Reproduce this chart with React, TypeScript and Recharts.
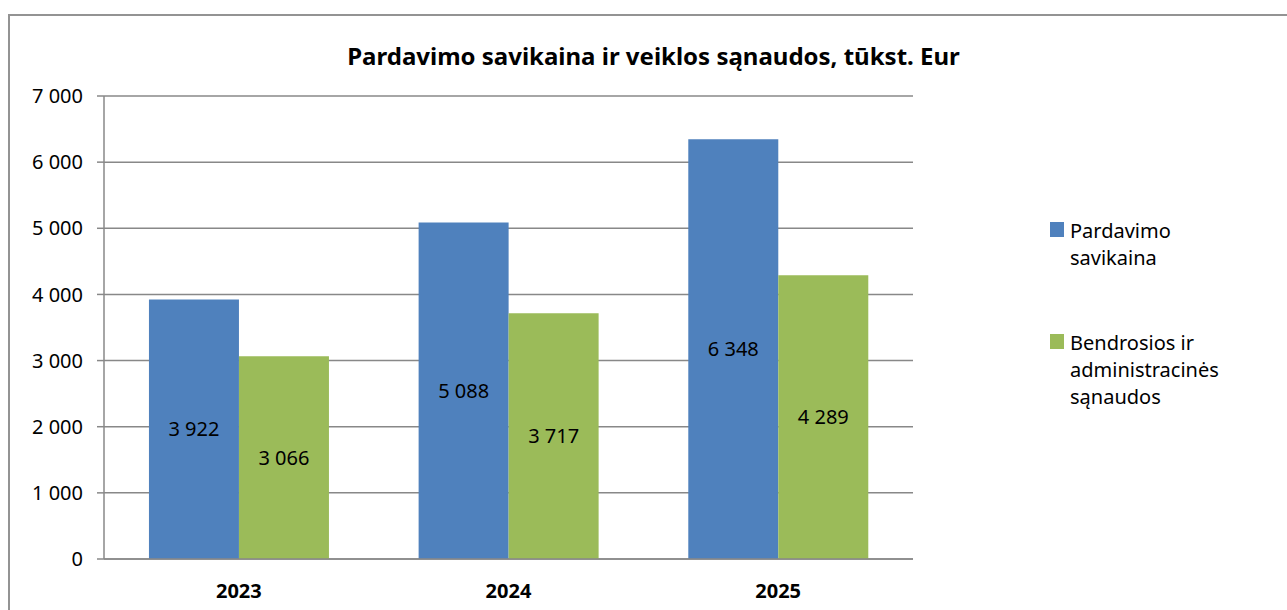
import React from 'react';
import { BarChart, Bar, XAxis, YAxis, CartesianGrid, LabelList } from 'recharts';

const years = ['2023', '2024', '2025'];
const savikaina = [3922, 5088, 6348];
const sanaudos = [3066, 3717, 4289];
const yTicks = [0, 1000, 2000, 3000, 4000, 5000, 6000, 7000];

const seriesNames = ['Pardavimo savikaina', 'Bendrosios ir administracinės sąnaudos'];
const legendLines = [['Pardavimo', 'savikaina'], ['Bendrosios ir', 'administracinės', 'sąnaudos']];
const colors = ['#4F81BD', '#9BBB59'];

const data = years.map((year, i) => ({
  year,
  savikaina: savikaina[i],
  sanaudos: sanaudos[i],
}));

const font = '"Noto Sans", sans-serif';
const gridColor = '#888888';

const fmt = (v: number) => String(v).replace(/\B(?=(\d{3})+(?!\d))/g, ' ');

export default function App() {
  return (
    <div
      style={{
        position: 'absolute',
        left: 8,
        top: 14,
        width: 1279,
        height: 596,
        boxSizing: 'border-box',
        borderTop: '2px solid #939393',
        borderLeft: '2px solid #939393',
        background: '#fff',
        fontFamily: font,
      }}
    >
      <div
        style={{
          position: 'absolute',
          left: 0,
          width: 1287,
          top: 24,
          lineHeight: '32px',
          textAlign: 'center',
          fontWeight: 'bold',
          fontSize: 24,
          color: '#000',
        }}
      >
        Pardavimo savikaina ir veiklos sąnaudos, tūkst. Eur
      </div>

      <BarChart
        width={1277}
        height={594}
        data={data}
        margin={{ top: 80, right: 374, left: 34, bottom: 11 }}
        barCategoryGap="16.67%"
        barGap={0}
      >
        <CartesianGrid vertical={false} stroke={gridColor} strokeWidth={1.5} xAxisId="cat" />
        <XAxis
          xAxisId="bounds"
          type="number"
          domain={[0, 3]}
          ticks={[0, 1, 2, 3]}
          allowDataOverflow
          height={0}
          axisLine={false}
          tick={false}
          tickSize={7}
          tickLine={{ stroke: gridColor, strokeWidth: 1.5 }}
        />
        <XAxis
          xAxisId="cat"
          dataKey="year"
          height={40}
          tickLine={false}
          axisLine={{ stroke: gridColor, strokeWidth: 1.5 }}
          tickMargin={19}
          tick={{ fill: '#000', fontSize: 20, fontWeight: 'bold', fontFamily: font }}
        />
        <YAxis
          width={60}
          domain={[0, 7000]}
          ticks={yTicks}
          interval={0}
          tickFormatter={fmt}
          tickSize={7}
          tickMargin={14}
          axisLine={{ stroke: gridColor, strokeWidth: 1.5 }}
          tickLine={{ stroke: gridColor, strokeWidth: 1.5 }}
          tick={{ fill: '#000', fontSize: 20, fontFamily: font }}
        />
        <Bar dataKey="savikaina" name={seriesNames[0]} fill={colors[0]} xAxisId="cat" isAnimationActive={false}>
          <LabelList dataKey="savikaina" position="center" formatter={(v: any) => fmt(Number(v))} fill="#000" fontSize={20} fontFamily={font} />
        </Bar>
        <Bar dataKey="sanaudos" name={seriesNames[1]} fill={colors[1]} xAxisId="cat" isAnimationActive={false}>
          <LabelList dataKey="sanaudos" position="center" formatter={(v: any) => fmt(Number(v))} fill="#000" fontSize={20} fontFamily={font} />
        </Bar>
      </BarChart>

      <div style={{ position: 'absolute', left: 1040, top: 201, fontSize: 20, lineHeight: '27px', color: '#000' }}>
        {legendLines.map((lines, i) => (
          <div key={i} style={{ display: 'flex', marginBottom: i === 0 ? 58 : 0 }}>
            <div style={{ width: 14, height: 15, background: colors[i], marginTop: 5, marginRight: 6, flexShrink: 0 }} />
            <div>
              {lines.map((l, j) => (
                <div key={j}>{l}</div>
              ))}
            </div>
          </div>
        ))}
      </div>
    </div>
  );
}
